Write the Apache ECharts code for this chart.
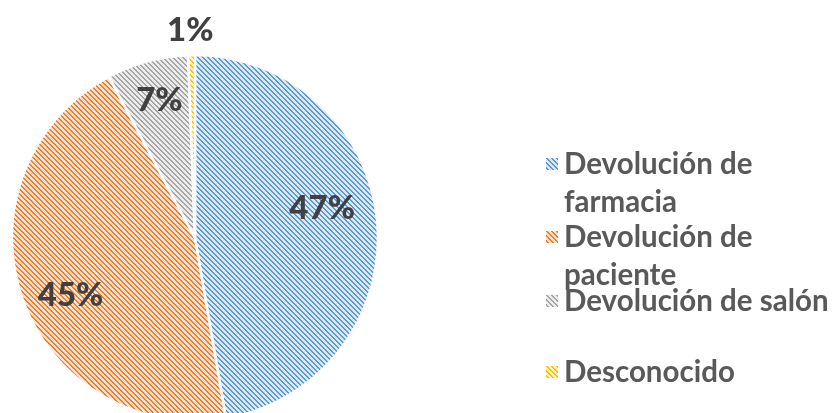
<!DOCTYPE html>
<html>
<head>
<meta charset="utf-8">
<script src="https://cdn.jsdelivr.net/npm/echarts@6/dist/echarts.min.js"></script>
<style>
html,body{margin:0;padding:0;background:#fff;}
#chart{width:836px;height:413px;}
</style>
</head>
<body>
<div id="chart"></div>
<script>
var categories = ['Devolución de farmacia', 'Devolución de paciente', 'Devolución de salón', 'Desconocido'];
var legendLabels = ['Devolución de\nfarmacia', 'Devolución de\npaciente', 'Devolución de salón', 'Desconocido'];
var values = [47.3, 44.9, 7.2, 0.6];
var lineColors = ['#5b9bd5', '#ed7d31', '#a5a5a5', '#ffc000'];
var bgColors = ['#dce8f6', '#fde2d0', '#ececec', '#fff3cc'];

function hatch(fg, bg) {
  var n = 5;
  var c = document.createElement('canvas');
  c.width = n; c.height = n;
  var ctx = c.getContext('2d');
  ctx.fillStyle = bg; ctx.fillRect(0, 0, n, n);
  ctx.fillStyle = fg;
  for (var y = 0; y < n; y++) {
    for (var x = 0; x < n; x++) {
      var d = ((x - y) % n + n) % n;
      if (d === 0 || d === 1) ctx.fillRect(x, y, 1, 1);
    }
  }
  return { image: c, repeat: 'repeat' };
}

var labelOffsets = [[33, -22], [-35, 27], [-11, -46], [-3, -113]];
var data = categories.map(function (name, i) {
  return {
    name: name,
    value: values[i],
    itemStyle: { color: hatch(lineColors[i], bgColors[i]) },
    label: { offset: labelOffsets[i] }
  };
});

var legendTops = [107, 180, 282, 353];
var legends = categories.map(function (name, i) {
  var twoLines = legendLabels[i].indexOf('\n') >= 0;
  return {
    data: [name],
    left: 544,
    top: legendTops[i],
    orient: 'vertical',
    itemWidth: 14,
    itemHeight: 14,
    itemGap: 0,
    padding: 0,
    icon: 'rect',
    selectedMode: false,
    formatter: function () { return twoLines ? '\n' + legendLabels[i] : legendLabels[i]; },
    textStyle: {
      fontFamily: 'Lato',
      fontWeight: 'bold',
      fontSize: 29.5,
      color: '#595959',
      lineHeight: 38
    }
  };
});

var chart = echarts.init(document.getElementById('chart'), null, { renderer: 'canvas' });
chart.setOption({
  animation: false,
  backgroundColor: '#ffffff',
  legend: legends,
  series: [{
    type: 'pie',
    center: [195, 238],
    radius: 183,
    startAngle: 90,
    clockwise: true,
    percentPrecision: 0,
    avoidLabelOverlap: false,
    itemStyle: { borderColor: '#ffffff', borderWidth: 2.5 },
    label: {
      show: true,
      position: 'inside',
      formatter: '{d}%',
      fontFamily: 'Lato',
      fontWeight: 900,
      fontSize: 33,
      color: '#404040'
    },
    labelLine: { show: false },
    data: data
  }]
});
</script>
</body>
</html>
